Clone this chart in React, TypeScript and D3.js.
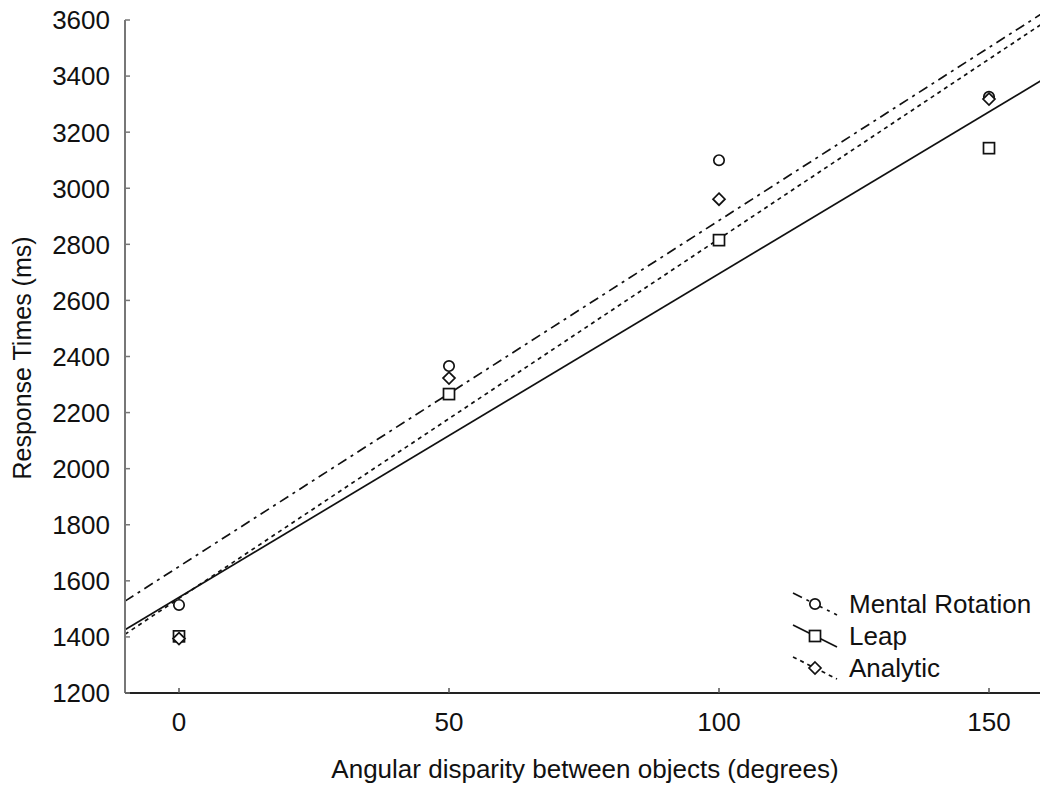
import React from "react";
import * as d3 from "d3";

const angles = [0, 50, 100, 150];
const mentalRotation = [1514, 2366, 3100, 3326];
const leap = [1402, 2266, 2815, 3143];
const analytic = [1394, 2323, 2961, 3318];
const xTicks = [0, 50, 100, 150];
const yTicks = [1200, 1400, 1600, 1800, 2000, 2200, 2400, 2600, 2800, 3000, 3200, 3400, 3600];
const seriesNames = ["Mental Rotation", "Leap", "Analytic"];

const W = 1040, H = 787;
const left = 125, right = 1043, top = 20, bottom = 693;
const FONT = "Arial, 'Liberation Sans', sans-serif";

function fit(xs: number[], ys: number[]) {
  const mx = d3.mean(xs)!, my = d3.mean(ys)!;
  let num = 0, den = 0;
  xs.forEach((x, i) => { num += (x - mx) * (ys[i] - my); den += (x - mx) ** 2; });
  const b = num / den;
  return { a: my - b * mx, b };
}

function Marker({ kind, x, y }: { kind: string; x: number; y: number }) {
  const common = { fill: "white", stroke: "#111", strokeWidth: 1.7 };
  if (kind === "circle") return <circle cx={x} cy={y} r={5.2} {...common} />;
  if (kind === "square") return <rect x={x - 5.5} y={y - 5.5} width={11} height={11} {...common} />;
  return <path d={`M${x},${y - 6}L${x + 6},${y}L${x},${y + 6}L${x - 6},${y}Z`} {...common} />;
}

export default function App() {
  const x = d3.scaleLinear().domain([-10, 160]).range([left, right]);
  const y = d3.scaleLinear().domain([1200, 3600]).range([bottom, top]);
  const series = [
    { name: seriesNames[0], vals: mentalRotation, kind: "circle", dash: "10,5,3,5" },
    { name: seriesNames[1], vals: leap, kind: "square", dash: "" },
    { name: seriesNames[2], vals: analytic, kind: "diamond", dash: "4,4" },
  ];
  const [x0, x1] = x.domain();
  return (
    <svg width={W} height={H} style={{ position: "absolute", left: 0, top: 0, background: "white" }} fontFamily={FONT}>
      <defs>
        <clipPath id="plot"><rect x={left} y={0} width={W - left} height={bottom} /></clipPath>
      </defs>
      <g clipPath="url(#plot)">
        {series.map((s) => {
          const f = fit(angles, s.vals);
          return (
            <line key={s.name} x1={x(x0)} y1={y(f.a + f.b * x0)} x2={x(x1)} y2={y(f.a + f.b * x1)}
              stroke="#111" strokeWidth={1.7} strokeDasharray={s.dash || undefined} />
          );
        })}
        {series.map((s) => s.vals.map((v, i) => (
          <Marker key={s.name + i} kind={s.kind} x={x(angles[i])} y={y(v)} />
        )))}
      </g>
      <line x1={left} y1={top} x2={left} y2={bottom} stroke="#777" strokeWidth={2} />
      <line x1={left} y1={bottom} x2={W} y2={bottom} stroke="#222" strokeWidth={2} />
      {yTicks.map((t) => (
        <g key={t}>
          <line x1={left} x2={left + 5} y1={y(t)} y2={y(t)} stroke="#777" strokeWidth={1.5} />
          <text x={110} y={y(t)} dy="0.36em" textAnchor="end" fontSize={26} fill="#111">{t}</text>
        </g>
      ))}
      {xTicks.map((t) => (
        <g key={t}>
          <line x1={x(t)} x2={x(t)} y1={bottom} y2={bottom - 5} stroke="#555" strokeWidth={1.5} />
          <text x={x(t)} y={731} textAnchor="middle" fontSize={26} fill="#111">{t}</text>
        </g>
      ))}
      <text x={585} y={778} textAnchor="middle" fontSize={26} fill="#111">Angular disparity between objects (degrees)</text>
      <text transform={`translate(31,358) rotate(-90)`} textAnchor="middle" fontSize={25} fill="#111">Response Times (ms)</text>
      {series.map((s, i) => {
        const cy = 604 + i * 32;
        return (
          <g key={s.name}>
            <path d={`M793,${cy - 11}L837,${cy + 11}`} stroke="#111" strokeWidth={1.7} strokeDasharray={s.dash || undefined} fill="none" />
            <Marker kind={s.kind} x={815} y={cy} />
            <text x={849} y={cy} dy="0.36em" fontSize={26} fill="#111">{s.name}</text>
          </g>
        );
      })}
    </svg>
  );
}
